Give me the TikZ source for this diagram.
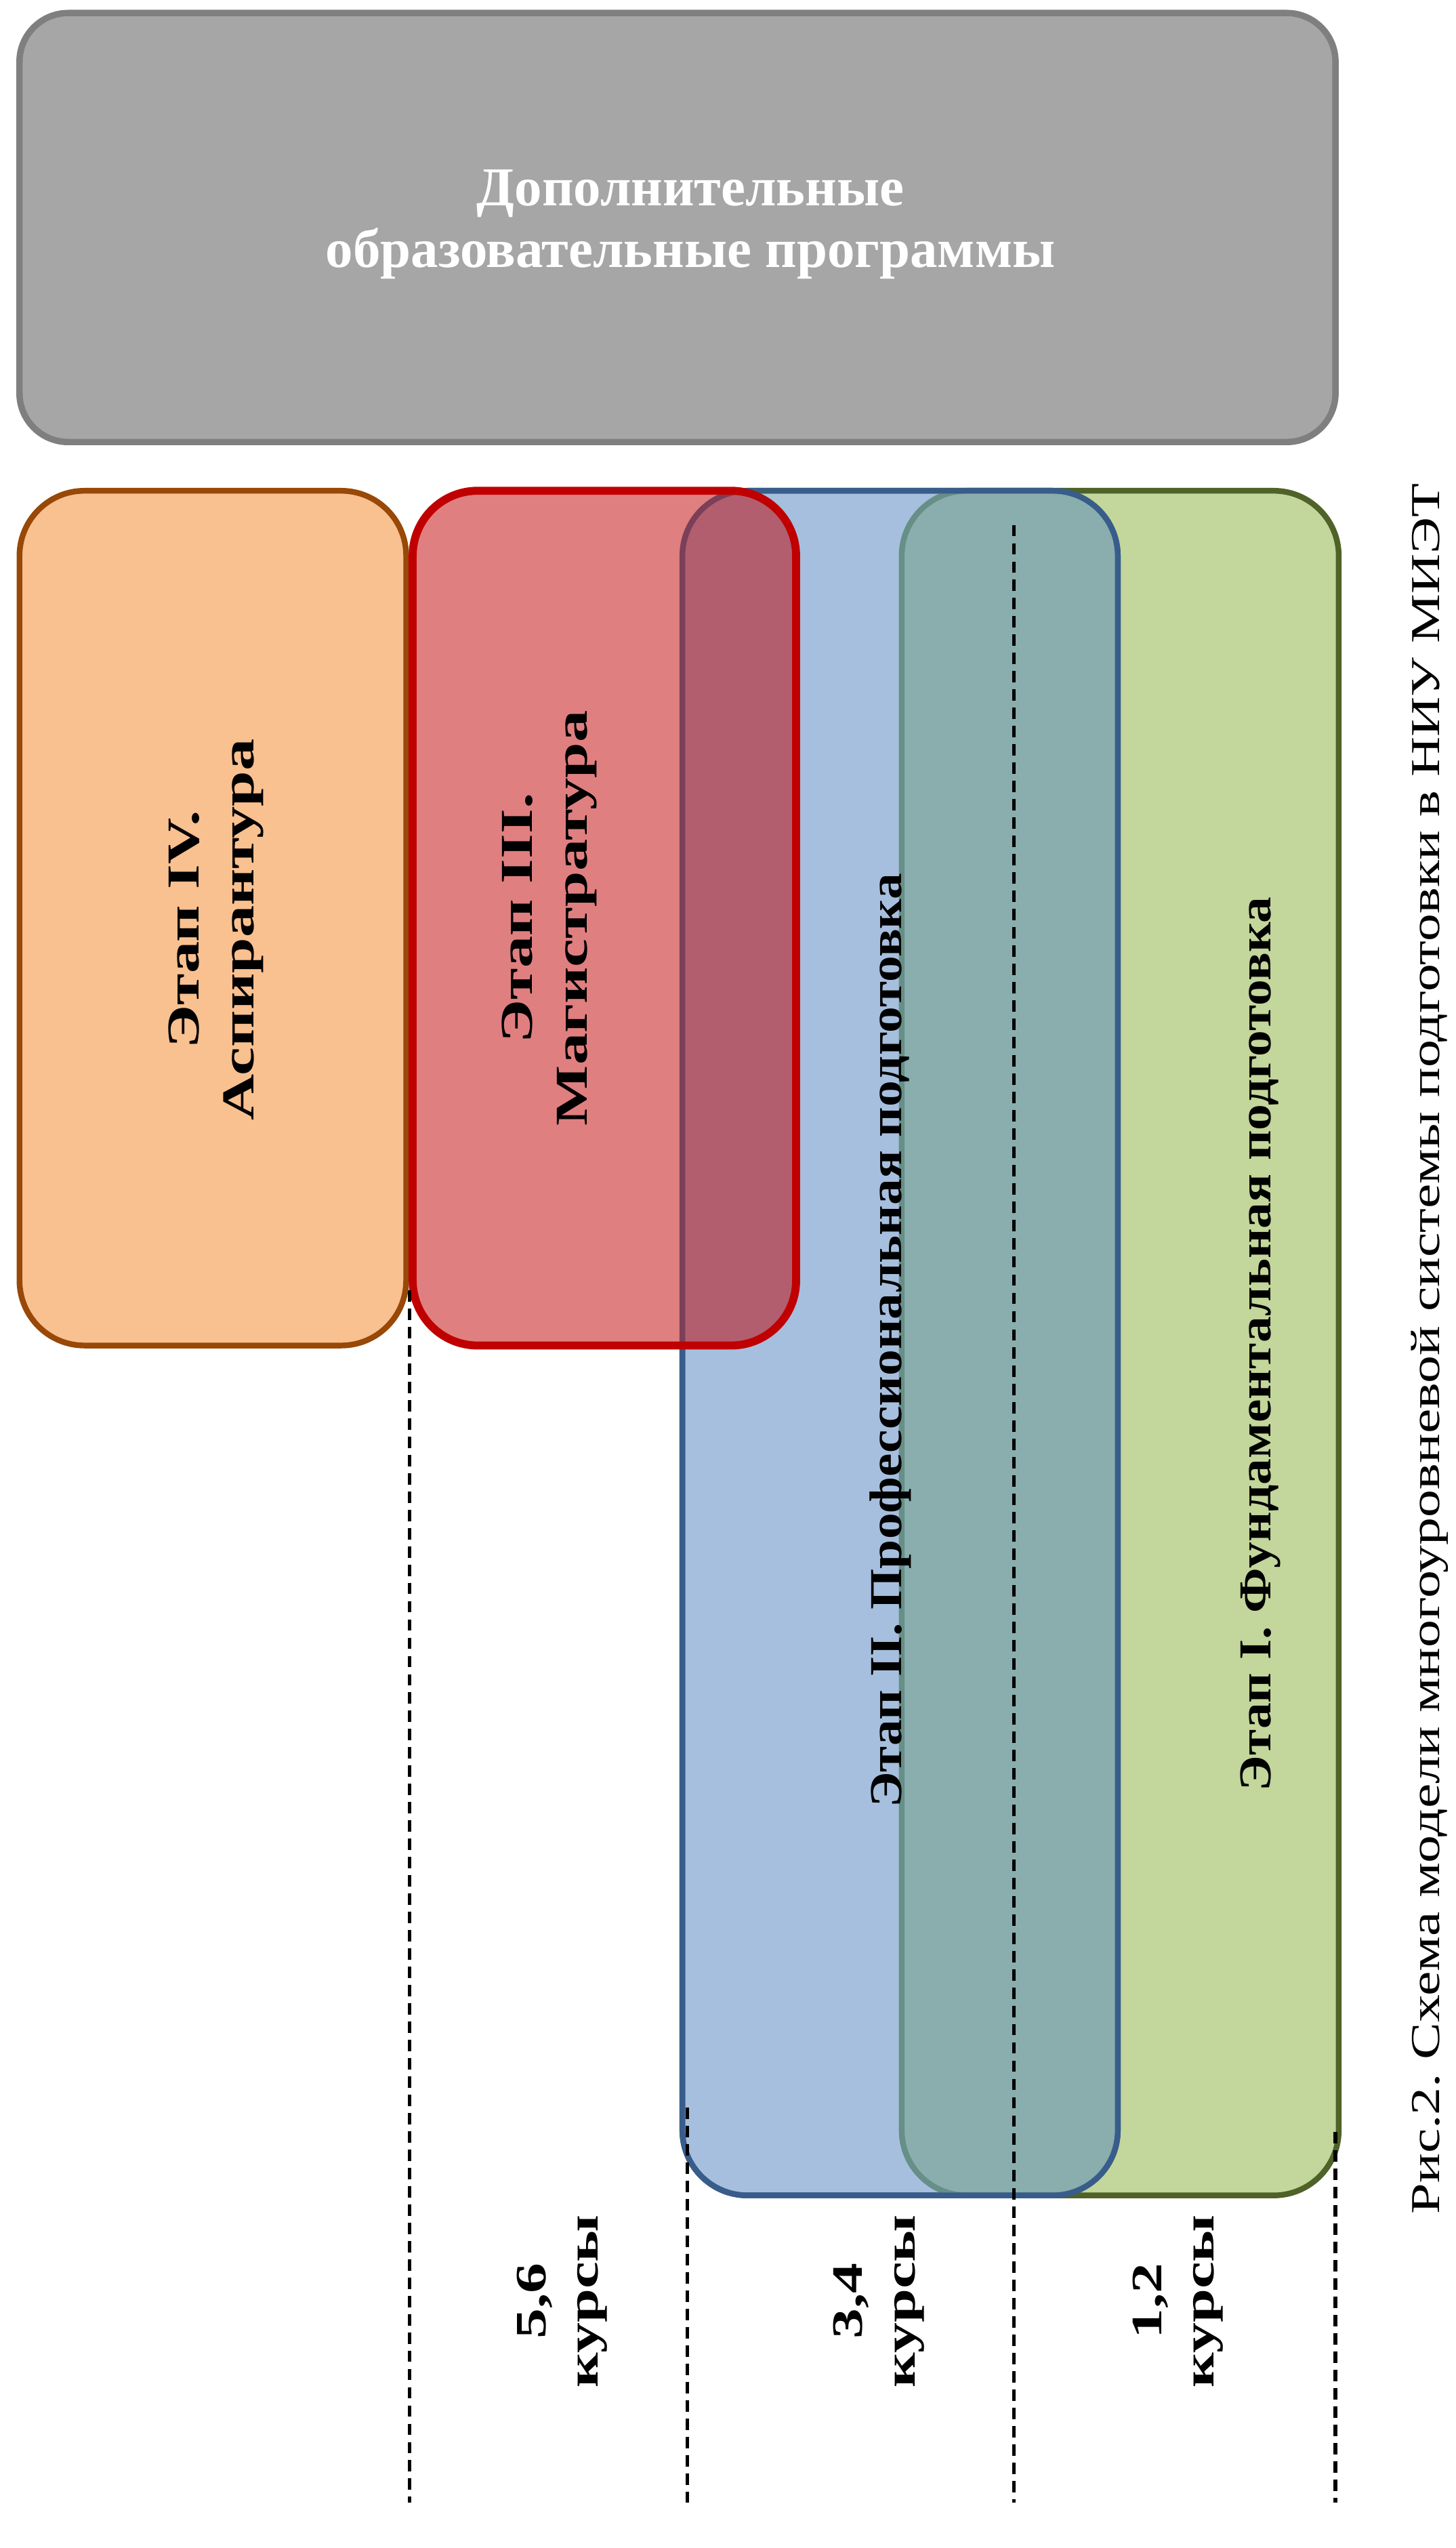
\documentclass[tikz,border=0pt]{standalone}
\usepackage{fontspec}
\setmainfont{Liberation Serif}
\newfontfamily\stagefont[FakeStretch=1.4]{Liberation Serif}
\newfontfamily\longstagefont[FakeStretch=1.15]{Liberation Serif}
\newfontfamily\capfont[FakeStretch=1.35]{Liberation Serif}
\frenchspacing
\usepackage{tikz}
\usetikzlibrary{positioning}
\usetikzlibrary{calc}
\definecolor{grayfill}{HTML}{A6A6A6}
\definecolor{grayline}{HTML}{7F7F7F}
\definecolor{orangefill}{HTML}{F9C090}
\definecolor{orangeline}{HTML}{984807}
\definecolor{redfill}{HTML}{E07F80}
\definecolor{redline}{HTML}{C00000}
\definecolor{bluefill}{HTML}{A7BFDE}
\definecolor{blueline}{HTML}{385D8A}
\definecolor{greenfill}{HTML}{C3D69B}
\definecolor{greenline}{HTML}{4F6228}
\definecolor{tealmix}{HTML}{8AADAD}
\definecolor{tealline}{HTML}{668F88}
\definecolor{redmix}{HTML}{B25E6E}
\definecolor{redmixline}{HTML}{7B3F58}
\tikzstyle{graybox}=[draw=grayline,fill=grayfill,line width=2.8pt,rounded corners=0.75cm]
\tikzstyle{stagebox}=[line width=2.5pt,rounded corners=1cm]
\tikzstyle{divline}=[draw,line width=1.6pt,dash pattern=on 5pt off 3pt]
\tikzstyle{toptext}=[text=white,align=center,font=\bfseries\fontsize{24}{27}\selectfont]
\tikzstyle{stagetext}=[rotate=90,align=center,inner sep=0pt,font=\stagefont\bfseries\fontsize{20}{24}\selectfont]
\tikzstyle{longstagetext}=[rotate=90,inner sep=0pt,font=\longstagefont\bfseries\fontsize{20}{24}\selectfont]
\tikzstyle{coursetext}=[rotate=90,align=center,inner sep=0pt,font=\stagefont\bfseries\fontsize{19}{23}\selectfont]
\tikzstyle{captiontext}=[rotate=90,inner sep=0pt,font=\capfont\fontsize{18}{22}\selectfont]
\begin{document}
\begin{tikzpicture}[x=0.025cm,y=-0.025cm]
    \useasboundingbox (0,0) rectangle (896,1568);

    % corners of the boxes
    \coordinate (grayTL) at (12,8);     \coordinate (grayBR) at (822,272);
    \coordinate (orangeTL) at (12,302); \coordinate (orangeBR) at (250,828);
    \coordinate (redTL) at (254,302);   \coordinate (redBR) at (490,828);
    \coordinate (blueTL) at (420,302);  \coordinate (blueBR) at (688,1351);
    \coordinate (greenTL) at (555,302); \coordinate (greenBR) at (824,1351);

    \draw[graybox] (grayTL) rectangle (grayBR);
    \draw[stagebox, draw=orangeline, fill=orangefill] (orangeTL) rectangle (orangeBR);

    \draw[stagebox, draw=greenline, fill=greenfill] (greenTL) rectangle (greenBR);
    \draw[stagebox, draw=blueline, fill=bluefill] (blueTL) rectangle (blueBR);
    \begin{scope}
        \clip[rounded corners=1cm] (greenTL) rectangle (greenBR);
        \fill[tealmix, rounded corners=1cm] (blueTL) rectangle (blueBR);
    \end{scope}
    \begin{scope}
        \clip[rounded corners=1cm] (blueTL) rectangle (blueBR);
        \draw[stagebox, draw=tealline] (greenTL) rectangle (greenBR);
    \end{scope}
    \draw[stagebox, draw=blueline] (blueTL) rectangle (blueBR);

    \fill[redfill, rounded corners=1cm] (redTL) rectangle (redBR);
    \begin{scope}
        \clip[rounded corners=1cm] (blueTL) rectangle (blueBR);
        \fill[redmix, rounded corners=1cm] (redTL) rectangle (redBR);
    \end{scope}
    \begin{scope}
        \clip[rounded corners=1cm] (redTL) rectangle (redBR);
        \draw[stagebox, draw=redmixline] (blueTL) rectangle (blueBR);
    \end{scope}
    \draw[stagebox, draw=redline, line width=3.5pt] (redTL) rectangle (redBR);

    % course borders
    \foreach \x/\ystart [count=\i] in {252/794, 423/1297, 624/323, 822/1312}
    {
        \coordinate (top\i) at (\x,\ystart);
        \coordinate (bot\i) at (\x,1540);
        \draw[divline] (top\i) -- (bot\i);
    }

    \node[toptext] (extra) at (425,138) {Дополнительные\\образовательные программы};
    \node[stagetext] (stage4) at (133,572) {Этап IV.\\Аспирантура};
    \node[stagetext] (stage3) at (338,565) {Этап III.\\Магистратура};
    \node[longstagetext] (stage2) at (548,825) {Этап II. Профессиональная подготовка};
    \node[longstagetext] (stage1) at (776,827) {Этап I. Фундаментальная подготовка};

    \foreach \x/\years [count=\i] in {346/{5,6}, 541/{3,4}, 725/{1,2}}
        \node[coursetext] (course\i) at (\x,1416) {\years\\курсы};

    \node[captiontext] (caption) at (880,830) {Рис.2. Схема модели многоуровневой системы подготовки в НИУ МИЭТ};
\end{tikzpicture}
\end{document}
